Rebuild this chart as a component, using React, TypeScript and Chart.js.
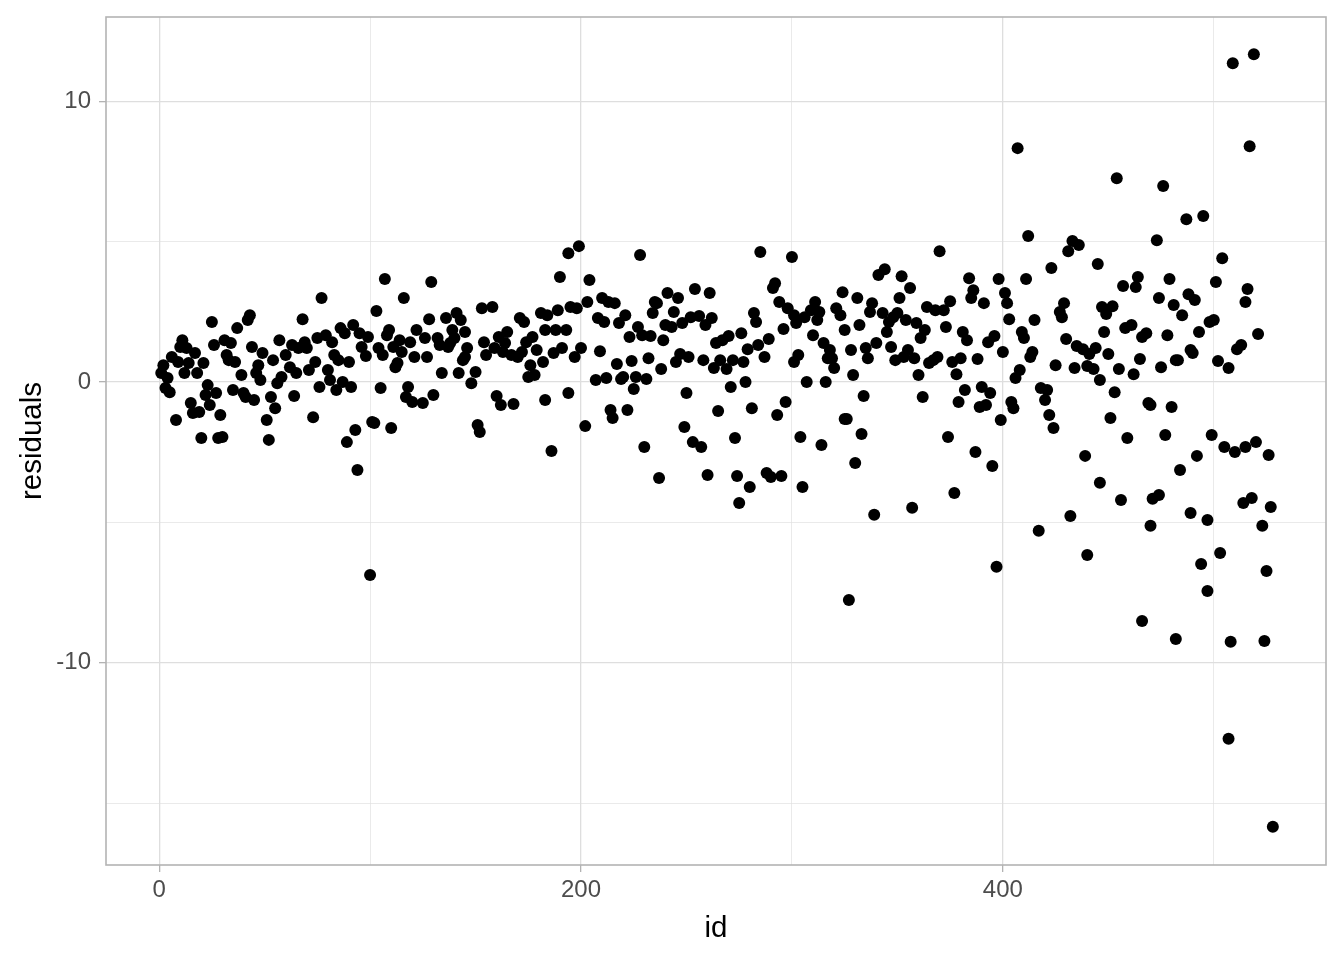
import React, { useEffect, useRef } from 'react';
import { Chart, registerables } from 'chart.js';

Chart.register(...registerables);

// Axis ticks (major carry labels, minor only gridlines)
const xTicks = [0, 100, 200, 300, 400, 500];
const xLabelTicks = [0, 200, 400];
const yTicks = [-15, -10, -5, 0, 5, 10];
const yLabelTicks = [-10, 0, 10];
const xRange = [-25.2, 553.2];
const yRange = [-17.2, 13.0];

const ids = [
  // 1 - 63
  1, 2, 4, 3, 5, 6, 9, 10, 11, 13,
  14, 12, 17, 18, 21, 23, 25, 26, 22, 15,
  16, 19, 24, 27, 29, 8, 20, 28, 30, 31,
  34, 32, 33, 36, 37, 42, 43, 39, 35, 40,
  41, 45, 44, 47, 46, 48, 49, 54, 53, 55,
  51, 52, 56, 58, 57, 60, 63, 62,
  // 64 - 134
  68, 77, 69, 70, 66, 65, 71, 74, 64, 73,
  75, 79, 82, 76, 80, 81, 83, 85, 90, 84,
  87, 91, 86, 88, 92, 95, 99, 96, 98, 93,
  89, 94, 100, 103, 107, 101, 102, 105, 104, 106,
  109, 108, 110, 111, 115, 113, 112, 114, 116, 118,
  117, 120, 125, 119, 122, 126, 121, 127, 128, 129,
  130, 132, 133, 134,
  // 136 - 204
  136, 139, 137, 141, 143, 145, 140, 138, 142, 146,
  144, 145, 150, 148, 153, 158, 154, 155, 159, 161,
  165, 164, 163, 167, 170, 160, 162, 168, 151, 152,
  171, 173, 174, 177, 172, 176, 178, 175, 179, 182,
  181, 184, 189, 183, 188, 193, 187, 191, 183, 186,
  190, 194, 199, 195, 198, 197, 200, 194, 202, 204,
  203,
  // 207 - 283
  228, 210, 213, 216, 208, 211, 221, 218, 209, 207,
  212, 217, 220, 219, 224, 226, 225, 231, 223, 227,
  229, 232, 214, 215, 222, 230, 234, 235, 236, 233,
  239, 238, 237, 241, 246, 244, 240, 243, 248, 252,
  256, 259, 262, 254, 261, 245, 247, 251, 258, 263,
  250, 249, 253, 257, 260, 265, 264, 267, 270, 266,
  269, 272, 276, 279, 277, 271, 278, 273, 274, 275,
  280, 281, 282, 283,
  // 284 - 353
  285, 300, 284, 287, 289, 291, 292, 294, 298, 301,
  302, 296, 293, 297, 288, 290, 295, 301, 303, 305,
  304, 307, 306, 309, 311, 313, 312, 310, 314, 315,
  318, 317, 319, 320, 316, 321, 323, 324, 325, 328,
  329, 325, 326, 331, 332, 333, 330, 327, 334, 337,
  338, 343, 336, 335, 340, 339, 341, 344, 345, 346,
  348, 350, 347, 349, 351, 352, 353,
  // 354 - 425
  407, 412, 423, 370, 356, 354, 359, 363, 361, 355,
  358, 360, 362, 364, 368, 372, 375, 373, 365, 367,
  369, 376, 380, 378, 374, 377, 357, 384, 386, 385,
  391, 381, 383, 388, 382, 379, 390, 394, 389, 392,
  387, 395, 393, 396, 398, 401, 402, 403, 400, 399,
  397, 417, 406, 408, 404, 405, 409, 410, 414, 413,
  411, 415, 418, 421, 420, 422, 424, 425,
  // 427 - 482
  454, 476, 473, 433, 436, 431, 445, 429, 427, 428,
  430, 435, 438, 441, 444, 434, 440, 443, 446, 447,
  452, 449, 448, 450, 455, 453, 451, 439, 432, 440,
  446, 456, 459, 457, 463, 464, 474, 479, 481, 458,
  461, 466, 468, 465, 462, 475, 478, 482, 469, 470,
  480, 477, 471, 474, 470, 466,
  // 482 - 528
  509, 519, 517, 487, 495, 504, 501, 488, 491, 485,
  516, 515, 500, 498, 493, 521, 513, 511, 489, 490,
  483, 502, 507, 499, 505, 510, 515, 520, 526, 492,
  484, 514, 518, 527, 489, 497, 523, 503, 494, 525,
  497, 482, 508, 524, 507, 528,
];

const residuals = [
  // 1 - 63
  0.32, 0.60, 0.14, -0.21, -0.36, 0.89, 0.71, 1.25, 1.49, 1.21,
  0.68, 0.32, 1.03, 0.32, 0.68, -0.11, 2.14, 1.32, -0.46, -0.75,
  -1.10, -1.07, -0.82, -0.39, -1.17, -1.35, -1.99, -1.99, -1.96, 1.49,
  1.39, 0.96, 0.78, 0.71, 1.92, 2.21, 2.38, 0.25, -0.28, -0.39,
  -0.53, -0.64, 1.25, 0.60, 0.32, 0.07, 1.03, 0.78, -0.53, -0.93,
  -1.35, -2.06, -0.04, 0.18, 1.49, 0.96, 1.32, 0.53,
  // 64 - 134
  2.24, 2.99, 1.42, 1.21, 1.21, 0.32, 0.43, 0.71, -0.50, -1.25,
  1.57, 1.67, 1.42, -0.18, 0.43, 0.07, 0.96, 0.78, 0.71, -0.28,
  0.00, -0.18, 1.92, 1.74, 2.03, 1.74, 1.60, 1.25, 0.93, -1.71,
  -2.14, -3.13, -6.87, 2.53, 3.67, -1.42, -1.46, -0.21, 1.21, 0.96,
  1.85, 1.67, -1.64, 1.25, 1.07, 0.68, 0.53, 1.49, 2.99, -0.18,
  -0.53, -0.71, -0.75, 1.42, 1.85, 1.57, 0.89, 0.89, 2.24, 3.56,
  -0.46, 1.57, 1.32, 0.32,
  // 136 - 204
  2.28, 1.85, 1.25, 2.46, 2.21, 1.78, 1.57, 1.39, 0.32, 1.21,
  0.78, 0.89, 0.36, -0.04, 2.63, 2.67, 1.42, 0.96, 1.21, 1.60,
  1.78, 1.39, 1.07, 0.96, 0.89, -0.50, -0.82, -0.78, -1.53, -1.78,
  2.28, 2.14, 1.42, 1.60, 1.07, 0.60, 0.25, 0.18, 1.14, 0.71,
  2.46, 2.38, 2.56, 1.85, 1.85, 1.85, 1.03, 1.21, -0.64, -2.46,
  3.74, 4.59, 4.84, 2.67, 2.63, 0.89, 1.21, -0.39, -1.57, 3.63,
  2.85,
  // 207 - 283
  4.52, 2.99, 2.85, 2.81, 2.28, 2.14, 2.38, 2.10, 1.10, 0.07,
  0.14, 0.64, 0.18, 0.11, 0.75, 0.18, -0.25, 0.11, 1.60, 1.96,
  1.67, 0.85, -1.00, -1.28, -1.00, -2.31, 2.46, 2.85, 2.81, 1.64,
  1.49, 0.46, -3.42, 3.17, 2.99, 2.49, 2.03, 1.96, 2.10, 2.31,
  2.35, 2.03, 2.28, 3.31, 3.17, 0.71, 1.00, 0.89, 0.78, 0.50,
  -0.39, -1.60, -2.14, -2.31, -3.31, -1.03, 1.39, 1.49, 1.64, 0.78,
  0.46, 0.78, 1.74, 1.17, 0.71, -0.18, 0.00, -1.99, -3.35, -4.31,
  -3.74, -0.93, 2.46, 2.14,
  // 284 - 353
  4.63, 4.45, 1.32, 0.89, 1.53, 3.35, 3.52, 2.85, 2.63, 2.38,
  2.10, 1.89, -1.17, -0.71, -3.24, -3.38, -3.35, 0.71, 0.96, -3.74,
  -1.96, 0.00, 2.31, 2.56, 2.85, 2.49, 2.21, 1.67, -2.24, 1.39,
  1.14, 0.85, 0.85, 0.50, 0.00, 2.63, 2.38, 3.20, 1.85, 1.14,
  0.25, -1.32, -1.32, 2.99, 2.03, -1.85, -2.88, -7.76, -0.50, 2.49,
  2.81, 2.46, 0.85, 1.21, 1.39, -4.73, 3.81, 4.02, 1.78, 2.14,
  2.31, 2.46, 1.25, 0.78, 2.99, 3.77, 0.89,
  // 354 - 425
  8.33, 5.20, 4.06, 4.66, 3.35, 2.21, 2.10, 1.85, 1.57, 1.14,
  0.85, 0.25, -0.53, 2.67, 2.56, 2.56, 2.88, 1.96, 0.68, 0.78,
  0.89, 0.71, 0.85, 0.28, -1.96, -3.95, -4.48, 3.70, 3.27, 2.99,
  2.81, 1.78, 1.49, 0.82, -0.28, -0.71, -0.18, -0.39, -0.89, -0.82,
  -2.49, -2.99, 1.42, 1.64, 3.67, 3.17, 2.81, 2.24, 1.07, -1.35,
  -6.58, -5.30, 0.14, 0.43, -0.71, -0.93, 1.78, 1.57, 1.07, 0.89,
  3.67, 2.21, -0.21, -0.28, -0.64, -1.17, -1.64, 0.60,
  // 427 - 482
  7.26, 6.98, 5.05, 5.02, 4.88, 4.66, 4.20, 2.81, 2.49, 2.31,
  1.53, 1.28, 1.17, 1.00, 1.21, 0.50, 0.57, 0.46, 0.07, 2.67,
  2.70, 2.42, 1.78, 1.00, 0.46, -0.36, -1.28, -2.63, -4.77, -6.16,
  -3.59, -4.20, -1.99, 3.42, 3.38, 3.74, 2.99, 3.67, 2.74, 1.92,
  2.03, 1.60, 1.74, 0.82, 0.28, 0.53, 1.67, 0.78, -0.75, -0.82,
  -0.89, -1.89, -4.16, -4.02, -5.12, -8.51,
  // 482 - 528
  11.35, 11.67, 8.40, 5.80, 5.91, 4.41, 3.56, 3.13, 2.92, 2.38,
  3.31, 2.85, 2.21, 2.14, 1.78, 1.71, 1.32, 1.17, 1.14, 1.03,
  0.78, 0.75, 0.50, -1.89, -2.31, -2.49, -2.31, -2.14, -2.60, -2.63,
  -3.13, -4.31, -4.13, -4.45, -4.66, -4.91, -5.12, -6.09, -6.48, -6.73,
  -7.44, -9.15, -9.25, -9.22, -12.70, -15.84,
];

const FONT = "'Liberation Sans', Arial, Helvetica, sans-serif";
const GRID = '#dedede';
const FRAME = '#b3b3b3';

const panelBorder = {
  id: 'panelBorder',
  afterDraw(chart: any) {
    const { ctx, chartArea } = chart;
    const { left, top, right, bottom } = chartArea;
    ctx.save();
    ctx.strokeStyle = FRAME;
    ctx.lineWidth = 1.6;
    ctx.strokeRect(left, top, right - left, bottom - top);
    ctx.restore();
  },
};

export default function App() {
  const canvasRef = useRef<HTMLCanvasElement | null>(null);

  useEffect(() => {
    const canvas = canvasRef.current;
    if (!canvas) return;
    const n = Math.min(ids.length, residuals.length);
    const points = [];
    for (let i = 0; i < n; i++) points.push({ x: ids[i], y: residuals[i] });

    const chart = new Chart(canvas, {
      type: 'scatter',
      data: {
        datasets: [
          {
            data: points,
            backgroundColor: '#000000',
            borderWidth: 0,
            pointRadius: 6,
            pointHoverRadius: 6,
          },
        ],
      },
      options: {
        animation: false,
        responsive: false,
        devicePixelRatio: 1,
        layout: { padding: { top: 17, right: 18, left: 0, bottom: 0 } },
        plugins: {
          legend: { display: false },
          tooltip: { enabled: false },
        },
        events: [],
        scales: {
          x: {
            type: 'linear',
            min: xRange[0],
            max: xRange[1],
            afterBuildTicks: (scale: any) => {
              scale.ticks = xTicks.map((v) => ({ value: v }));
            },
            afterFit: (scale: any) => {
              scale.height = 95;
              scale.paddingLeft = 0;
              scale.paddingRight = 0;
            },
            grid: {
              color: GRID,
              lineWidth: (ctx: any) => (xLabelTicks.includes(ctx.tick?.value) ? 1.3 : 0.65),
              tickColor: (ctx: any) => (xLabelTicks.includes(ctx.tick?.value) ? FRAME : 'rgba(0,0,0,0)'),
              tickLength: 7,
              tickWidth: 1.3,
              drawTicks: true,
            },
            border: { display: false },
            ticks: {
              autoSkip: false,
              maxRotation: 0,
              padding: 4,
              color: '#4d4d4d',
              font: { family: FONT, size: 24 },
              callback: (v: any) => (xLabelTicks.includes(Number(v)) ? String(v) : ''),
            },
            title: {
              display: true,
              text: 'id',
              color: '#000000',
              font: { family: FONT, size: 29.5 },
              padding: { top: 0, bottom: 13 },
            },
          },
          y: {
            type: 'linear',
            min: yRange[0],
            max: yRange[1],
            afterBuildTicks: (scale: any) => {
              scale.ticks = yTicks.map((v) => ({ value: v }));
            },
            afterFit: (scale: any) => {
              scale.width = 106;
              scale.paddingTop = 0;
              scale.paddingBottom = 0;
            },
            grid: {
              color: GRID,
              lineWidth: (ctx: any) => (yLabelTicks.includes(ctx.tick?.value) ? 1.3 : 0.65),
              tickColor: (ctx: any) => (yLabelTicks.includes(ctx.tick?.value) ? FRAME : 'rgba(0,0,0,0)'),
              tickLength: 7,
              tickWidth: 1.3,
              drawTicks: true,
            },
            border: { display: false },
            ticks: {
              autoSkip: false,
              padding: 8,
              color: '#4d4d4d',
              font: { family: FONT, size: 24 },
              callback: (v: any) => (yLabelTicks.includes(Number(v)) ? String(v) : ''),
            },
            title: {
              display: true,
              text: 'residuals',
              color: '#000000',
              font: { family: FONT, size: 29.5 },
              padding: { top: 15, bottom: 0 },
            },
          },
        },
      },
      plugins: [panelBorder],
    } as any);

    return () => {
      chart.destroy();
    };
  }, []);

  return (
    <div style={{ position: 'absolute', left: 0, top: 0, width: 1344, height: 960, background: '#ffffff' }}>
      <canvas ref={canvasRef} width={1344} height={960} style={{ display: 'block' }} />
    </div>
  );
}
